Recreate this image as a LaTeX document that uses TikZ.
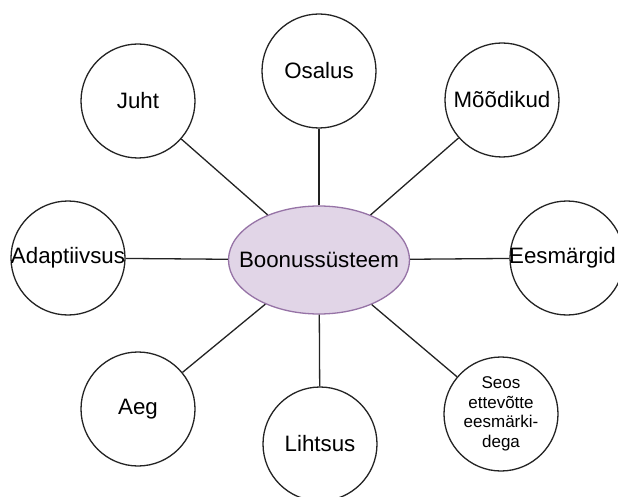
\documentclass[tikz,border=0pt]{standalone}
\usepackage{fontspec}
\setmainfont{Liberation Sans}
\usepackage{tikz}
\usetikzlibrary{shapes.geometric}
\definecolor{bonusfill}{RGB}{225, 213, 231}
\definecolor{bonusline}{RGB}{150, 115, 166}
\definecolor{inkgray}{RGB}{35, 35, 35}

\begin{document}
\begin{tikzpicture}[
    x=1pt, y=-1pt,
    every node/.style={font=\fontsize{22.3}{25}\selectfont},
    factor/.style={circle, draw=inkgray, fill=white, line width=1.3pt,
                   minimum size=114pt, inner sep=0pt},
    link/.style={inkgray, line width=1.3pt}
  ]
    \useasboundingbox (0,0) rectangle (618,497);
    \clip (0,0) rectangle (618,497);

    % Central concept
    \node[ellipse, draw=bonusline, fill=bonusfill, line width=1.3pt,
          minimum width=181pt, minimum height=108pt,
          inner xsep=-20pt, inner ysep=0pt] (bonus) at (319,260) {Boonussüsteem};

    % Factors around it
    \node[factor] (osalus) at (319,71) {Osalus};
    \node[factor] (juht) at (138,101) {Juht};
    \node[factor] (moodikud) at (502,100) {Mõõdikud};
    \node[factor, inner xsep=-3pt] (adaptiiv) at (68,258) {Adaptiivsus};
    \node[factor, inner xsep=-6pt] (eesmargid) at (567,258) {Eesmärgid\kern9pt};
    \node[factor] (aeg) at (138,409) {Aeg};
    \node[factor] (lihtsus) at (320,444) {Lihtsus};
    \node[factor, align=center, font=\fontsize{17}{19.5}\selectfont]
          (seos) at (501,414) {Seos\\ettevõtte\\eesmärki-\\dega};

    % Links
    \foreach \f in {osalus, juht, moodikud, adaptiiv, eesmargid, aeg, lihtsus, seos}
      \draw[link] (bonus) -- (\f);
\end{tikzpicture}
\end{document}
